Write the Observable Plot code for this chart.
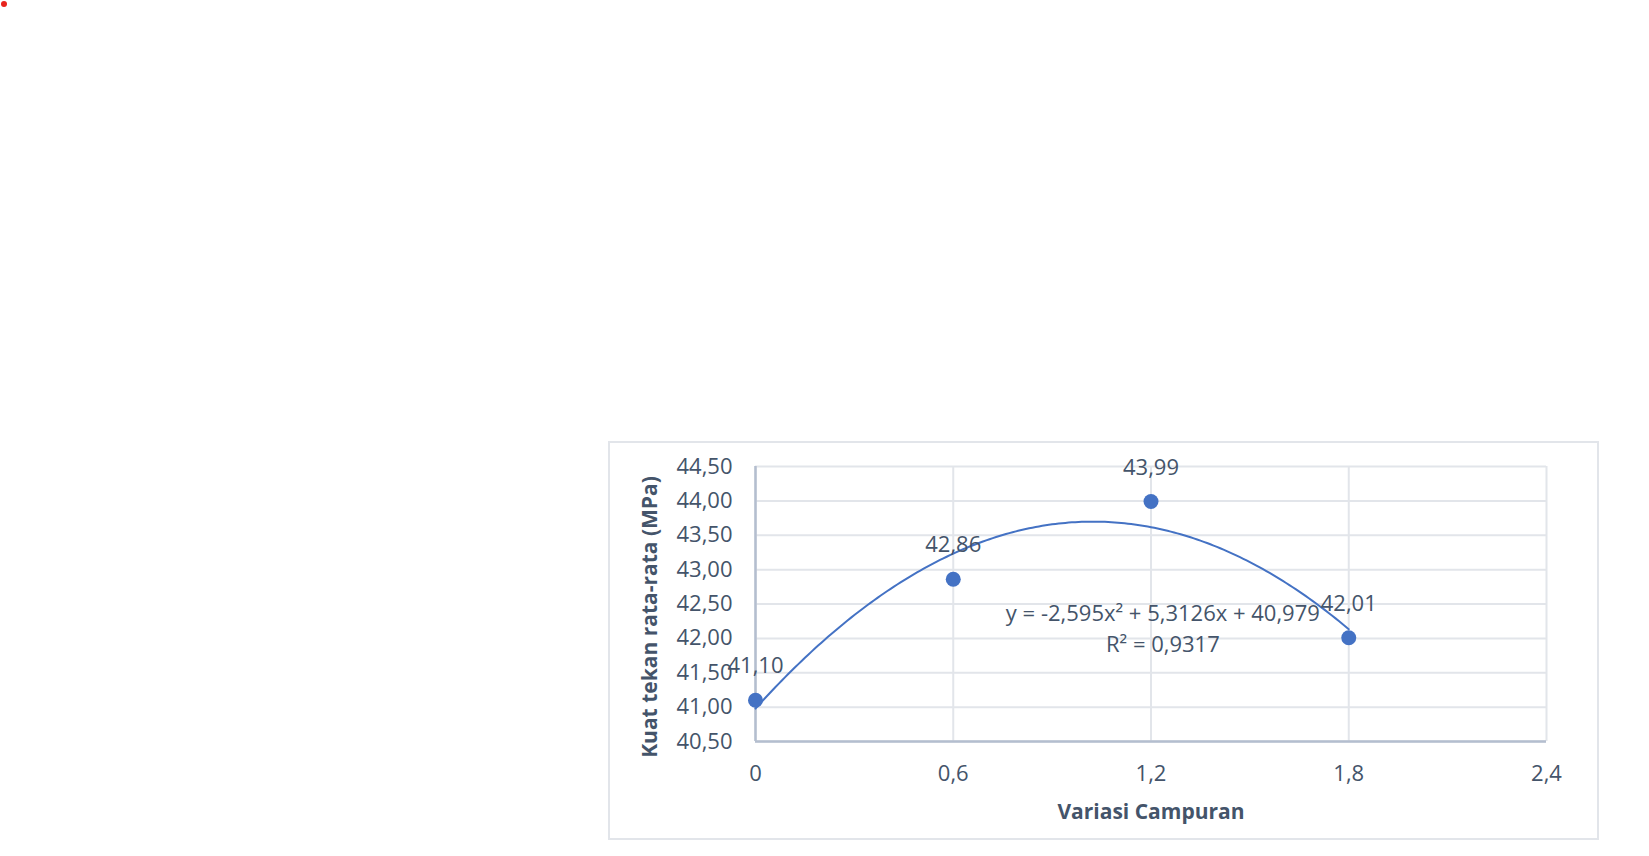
<!DOCTYPE html>
<html>
<head>
<meta charset="utf-8">
<script src="https://cdn.jsdelivr.net/npm/d3@7"></script>
<script src="https://cdn.jsdelivr.net/npm/@observablehq/plot@0.6"></script>
<style>
  html, body { margin: 0; padding: 0; background: #ffffff; }
  #wrap { position: relative; width: 1649px; height: 856px; overflow: hidden; }
  #frame { position: absolute; left: 608px; top: 441px; width: 987px; height: 395px; border: 2px solid #E2E5EA; box-sizing: content-box; }
  #dot { position: absolute; left: 1px; top: 1px; width: 6px; height: 6px; border-radius: 50%; background: #E8231C; }
  #chart { position: absolute; left: 0; top: 0; }
</style>
</head>
<body>
<div id="wrap">
  <div id="dot"></div>
  <div id="frame"></div>
  <div id="chart"></div>
</div>
<script>
// ---- data ----
const mixVariations = [0, 0.6, 1.2, 1.8];            // Variasi Campuran
const avgStrength = [41.10, 42.86, 43.99, 42.01];     // Kuat tekan rata-rata (MPa)
const xTicks = [0, 0.6, 1.2, 1.8, 2.4];
const yTicks = [40.5, 41.0, 41.5, 42.0, 42.5, 43.0, 43.5, 44.0, 44.5];
// polynomial trendline coefficients as printed on the chart (a, b, c)
const trendCoef = [-2.595, 5.3126, 40.979];
const trendLabel = "y = -2,595x² + 5,3126x + 40,979\nR² = 0,9317";
const xTitle = "Variasi Campuran";
const yTitle = "Kuat tekan rata-rata (MPa)";

const points = mixVariations.map((x, i) => ({x, y: avgStrength[i]}));
const trend = d3.range(0, 1.8 + 1e-9, 0.01).map(x => ({x, y: trendCoef[0] * x * x + trendCoef[1] * x + trendCoef[2]}));

const comma = (v, d) => v.toFixed(d).replace(".", ",");
const blue = "#4472C4";
const textColor = "#44546A";

const chart = Plot.plot({
  width: 1649,
  height: 856,
  marginLeft: 755,
  marginRight: 103,
  marginTop: 466,
  marginBottom: 115,
  style: {fontFamily: "'Open Sans', sans-serif", fontSize: "22px", color: textColor, background: "transparent"},
  x: {domain: [0, 2.4], ticks: xTicks, tickFormat: d => String(d).replace(".", ","), label: null},
  y: {domain: [40.5, 44.5], ticks: yTicks, tickFormat: d => comma(d, 2), label: null},
  marks: [
    Plot.gridX(xTicks, {stroke: "#E2E5EA", strokeOpacity: 1, strokeWidth: 2}),
    Plot.gridY(yTicks, {stroke: "#E2E5EA", strokeOpacity: 1, strokeWidth: 2}),
    Plot.ruleX([0], {stroke: "#B4BECF", strokeWidth: 2.5}),
    Plot.ruleY([40.5], {stroke: "#B4BECF", strokeWidth: 2.5}),
    Plot.axisX(xTicks, {tickSize: 0, tickPadding: 24, tickFormat: d => String(d).replace(".", ","), label: null}),
    Plot.axisY(yTicks, {tickSize: 0, tickPadding: 23, tickFormat: d => comma(d, 2), label: null}),
    Plot.line(trend, {x: "x", y: "y", stroke: blue, strokeWidth: 2, curve: "linear"}),
    Plot.dot(points, {x: "x", y: "y", r: 7.5, fill: blue, stroke: "none"}),
    Plot.text(points, {x: "x", y: "y", text: d => comma(d.y, 2), dy: -34, lineAnchor: "middle", fill: textColor}),
    Plot.text([trendLabel], {x: [1.236], y: [42.35], text: d => d, lineAnchor: "top", lineHeight: 1.41, dy: -15, fill: textColor}),
    Plot.text([xTitle], {frameAnchor: "bottom", dy: 71, lineAnchor: "middle", textAnchor: "middle", fontSize: 21, fontWeight: "bold", fill: textColor}),
    Plot.text([yTitle], {frameAnchor: "left", dx: -105, dy: 13, rotate: -90, lineAnchor: "middle", textAnchor: "middle", fontSize: 21, fontWeight: "bold", fill: textColor})
  ]
});
document.getElementById("chart").appendChild(chart);
</script>
</body>
</html>
